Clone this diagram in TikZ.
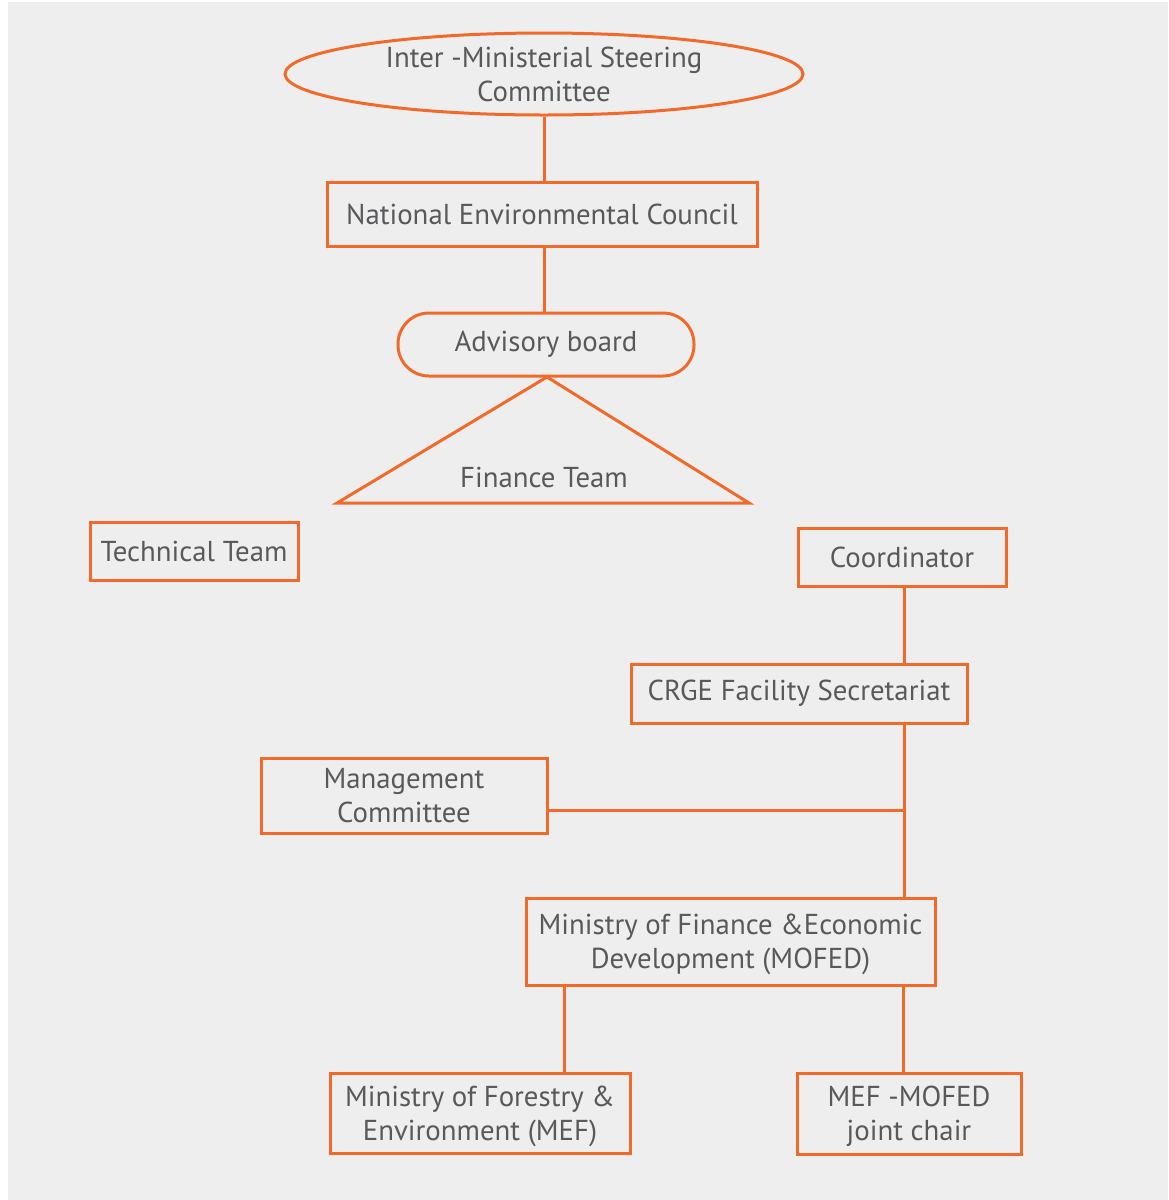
\documentclass[tikz,border=0pt]{standalone}
\usepackage{fontspec}
\setmainfont{PT Sans}
\usetikzlibrary{shapes}
\usetikzlibrary{calc}
\definecolor{crgeorange}{HTML}{F26A2A}
\definecolor{crgegrey}{HTML}{EEEEEE}
\definecolor{crgetext}{HTML}{58595B}
\tikzset{
  unit/.style={draw=crgeorange, line width=1.5pt, text=crgetext, font=\fontsize{14.4}{17}\selectfont, align=center, inner sep=0pt},
  box/.style={unit, rectangle},
  twoline/.style={text depth=0pt},
  link/.style={draw=crgeorange, line width=1.5pt}
}

\begin{document}
\begin{tikzpicture}[x=0.5pt, y=-0.5pt]
      \useasboundingbox (0,0) rectangle (1168,1200);
      \fill[crgegrey] (8,2) rectangle (1168,1200);

      % top of the structure
      \node[unit, twoline, ellipse, minimum width=259pt, minimum height=41pt] (imsc) at (544,74) {Inter -Ministerial Steering\\Committee};
      \node[box, minimum width=215pt, minimum height=32pt] (nec) at (542,214) {National Environmental Council};
      \node[unit, rectangle, rounded corners=15.5pt, minimum width=148pt, minimum height=31.5pt] (adv) at (546,344.5) {Advisory board};
      \draw[link] (imsc.south) -- (imsc.south |- nec.north);
      \draw[link] (imsc.south |- nec.south) -- (imsc.south |- adv.north);

      % finance team triangle
      \coordinate (apex) at (547,377);
      \draw[link, line join=miter] (apex) -- (749,503) -- (337,503) -- cycle;
      \node[text=crgetext, font=\fontsize{14.4}{17}\selectfont] (fin) at (544,477) {Finance Team};

      \node[box, minimum width=104pt, minimum height=29pt] (tech) at (194,551) {Technical Team};

      % secretariat branch
      \node[box, minimum width=104pt, minimum height=29pt] (coord) at (902,557) {Coordinator};
      \node[box, minimum width=168pt, minimum height=29.5pt] (crge) at (799,693.5) {CRGE Facility Secretariat};
      \node[box, twoline, minimum width=143pt, minimum height=37.5pt] (mgmt) at (404,795.5) {Management\\Committee};
      \node[box, twoline, minimum width=204.5pt, minimum height=43.5pt] (mofed) at (730.5,941.5) {Ministry of Finance \&Economic\\Development (MOFED)};
      \coordinate (jn) at (904,810);
      \draw[link] (coord.south -| jn) -- (crge.north -| jn);
      \draw[link] (crge.south -| jn) -- (mofed.north -| jn);
      \draw[link] (mgmt.east |- jn) -- (jn);

      % ministries
      \node[box, twoline, minimum width=150pt, minimum height=40pt] (mef) at (480,1113) {Ministry of Forestry \&\\Environment (MEF)};
      \node[box, twoline, minimum width=112pt, minimum height=40.5pt] (chair) at (909,1113.5) {MEF -MOFED\\joint chair};
      \coordinate (lft) at (564,985);
      \coordinate (rgt) at (903,985);
      \draw[link] (mofed.south -| lft) -- (mef.north -| lft);
      \draw[link] (mofed.south -| rgt) -- (chair.north -| rgt);
\end{tikzpicture}
\end{document}
